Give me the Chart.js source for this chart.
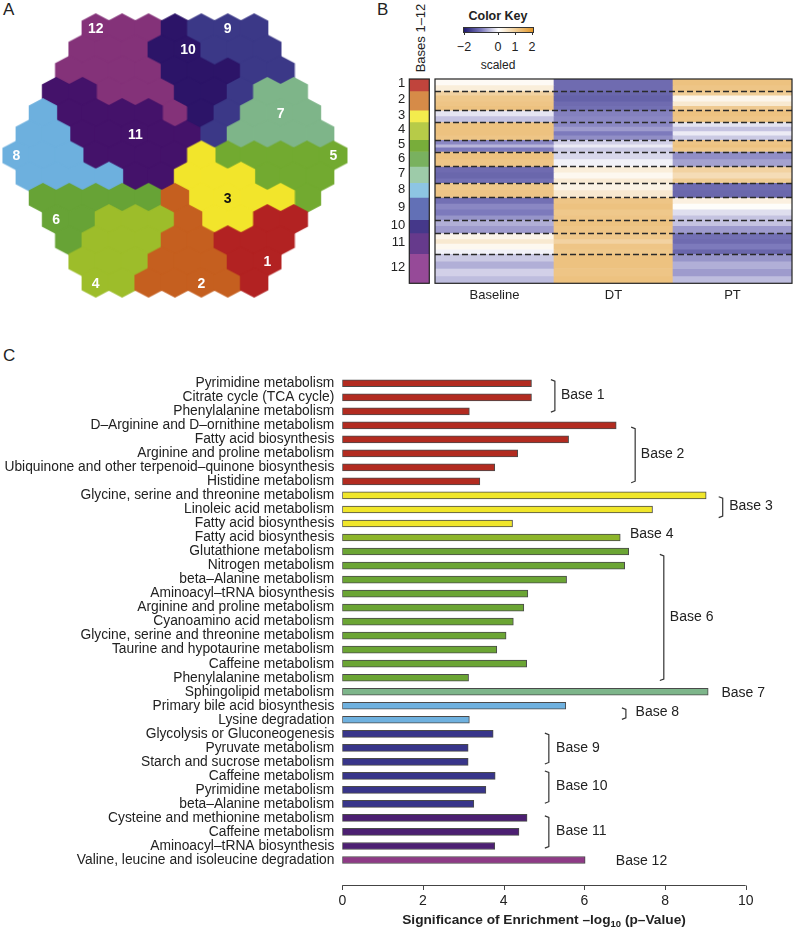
<!DOCTYPE html>
<html>
<head>
<meta charset="utf-8">
<script src="https://cdn.jsdelivr.net/npm/chart.js@4.4.0/dist/chart.umd.min.js"></script>
<style>
  body { margin: 0; background: #fff; font-family: "Liberation Sans", Arial, Helvetica, sans-serif; color: #222; }
  #page { position: relative; width: 793px; height: 931px; overflow: hidden; }
  .box { position: absolute; }
  .txt { position: absolute; white-space: nowrap; line-height: 1; }
</style>
</head>
<body>
<div id="page">
  <div class="txt" style="left:3px;top:1px;font-size:17px;">A</div>
  <div class="txt" style="left:377px;top:1px;font-size:17px;">B</div>
  <div class="txt" style="left:3px;top:347px;font-size:17px;">C</div>

  <div class="box" style="left:0;top:0;width:360px;height:310px"><canvas id="hexChart"></canvas></div>

  <div class="txt" style="left:420px;top:38px;font-size:13px;transform:translate(-50%,-50%) rotate(-90deg);">Bases 1–12</div>
  <div class="txt" style="left:498px;top:10px;font-size:12.5px;font-weight:bold;transform:translateX(-50%);">Color Key</div>
  <div id="keyBar" class="box" style="left:463px;top:27px;width:69px;height:4px;border:1px solid #333;"></div>
  <div id="keyTicks"></div>
  <div class="txt" style="left:498px;top:59px;font-size:12px;transform:translateX(-50%);">scaled</div>

  <div class="box" style="left:380px;top:70px;width:52px;height:240px"><canvas id="sideChart"></canvas></div>
  <div class="box" style="left:430px;top:70px;width:363px;height:240px"><canvas id="heatChart"></canvas></div>

  <div class="box" style="left:0;top:360px;width:793px;height:571px"><canvas id="barChart"></canvas></div>
</div>

<script>
// ---------- panel A: base map (rows of the hexagonal grid, top to bottom) ----------
const hexRows = [
  [12,12,12,10,9,9,9],
  [12,12,12,10,10,9,9,9],
  [12,12,12,12,10,10,10,9,9],
  [11,11,12,12,12,10,10,9,7,7],
  [8,11,11,11,11,12,10,9,7,7,7],
  [8,8,11,11,11,11,11,9,7,7,7,7],
  [8,8,8,11,11,11,11,3,5,5,5,5,5],
  [8,8,8,8,11,11,3,3,3,5,5,5],
  [6,6,6,6,6,2,3,3,3,3,5],
  [6,6,4,4,4,2,3,3,1,1],
  [6,4,4,4,2,2,1,1,1],
  [4,4,4,2,2,2,1,1],
  [4,4,2,2,2,2,1]
];
const hexLabelBase = [12,10,9,7,11,8,5,3,6,1,2,4];
const hexLabelRow  = [0,1,0,4,5,6,6,8,9,11,12,12];
const hexLabelCol  = [0,4,5,9,4,0,12,7,0,7,4,0];

// ---------- panel B: heatmap bands (gene counts and scaled values) ----------
const heatColumns = ['Baseline', 'DT', 'PT'];
const heatBandBase = [1,1, 2,2,2,2, 3,3, 4,4,4,4, 5,5,5, 6,6, 7,7,7, 8,8, 9,9,9,9, 10,10, 11,11,11,11, 12,12,12,12];
const heatBandSize = [4,4, 3,4,3,3, 4,4, 3,3,3,3, 3,2,3, 5,5, 4,4,3, 5,5, 4,4,4,3, 4,5, 4,3,4,3, 5,5,5,5];
const heatBaseline = [0.1,0.35, 0.9,1.1,1.15,1.2, -0.2,-0.45, 1.2,1.2,1.2,1.15, -0.9,-0.55,-1.0, 1.2,1.15, -1.15,-1.2,-1.1, 1.1,1.15, -1.1,-0.9,-1.0,-0.8, -0.6,-0.75, 0.2,0.45,0.15,-0.1, -0.4,-0.6,-0.35,-0.5];
const heatDT = [-1.15,-1.15, -1.2,-1.25,-1.15,-1.1, -0.95,-0.9, -0.9,-0.75,-1.0,-0.85, -0.35,-0.15,-0.4, -0.3,-0.1, 0.35,0.15,0.4, 0.25,0.45, 1.15,1.2,1.1,1.15, 1.2,1.15, 1.1,0.9,1.15,1.1, 1.2,1.2,1.15,1.2];
const heatPT = [1.2,1.15, 1.0,0.2,0.45,1.05, 1.2,1.15, -0.2,-0.45,-0.15,-0.4, 1.15,1.2,1.1, -0.85,-0.7, 0.9,0.7,1.0, -1.15,-1.2, 0.3,0.05,-0.25,-0.45, -0.45,-0.75, -1.1,-1.15,-1.0,-1.2, -0.8,-0.6,-0.75,-0.5];
const keyTicks = [-2, 0, 1, 2];

// ---------- panel C: pathway enrichment ----------
const pathways = [
  'Pyrimidine metabolism', 'Citrate cycle (TCA cycle)', 'Phenylalanine metabolism',
  'D–Arginine and D–ornithine metabolism', 'Fatty acid biosynthesis', 'Arginine and proline metabolism',
  'Ubiquinone and other terpenoid–quinone biosynthesis', 'Histidine metabolism',
  'Glycine, serine and threonine metabolism', 'Linoleic acid metabolism', 'Fatty acid biosynthesis',
  'Fatty acid biosynthesis',
  'Glutathione metabolism', 'Nitrogen metabolism', 'beta–Alanine metabolism', 'Aminoacyl–tRNA biosynthesis',
  'Arginine and proline metabolism', 'Cyanoamino acid metabolism', 'Glycine, serine and threonine metabolism',
  'Taurine and hypotaurine metabolism', 'Caffeine metabolism', 'Phenylalanine metabolism',
  'Sphingolipid metabolism',
  'Primary bile acid biosynthesis', 'Lysine degradation',
  'Glycolysis or Gluconeogenesis', 'Pyruvate metabolism', 'Starch and sucrose metabolism',
  'Caffeine metabolism', 'Pyrimidine metabolism', 'beta–Alanine metabolism',
  'Cysteine and methionine metabolism', 'Caffeine metabolism', 'Aminoacyl–tRNA biosynthesis',
  'Valine, leucine and isoleucine degradation'
];
const pathwayBase = [1,1,1, 2,2,2,2,2, 3,3,3, 4, 6,6,6,6,6,6,6,6,6,6, 7, 8,8, 9,9,9, 10,10,10, 11,11,11, 12];
const enrichment = [4.69,4.69,3.15, 6.79,5.61,4.35,3.78,3.41, 9.02,7.69,4.22, 6.89,
  7.10,7.00,5.56,4.60,4.50,4.24,4.06,3.83,4.57,3.13, 9.07, 5.54,3.15,
  3.74,3.12,3.12, 3.79,3.56,3.26, 4.58,4.38,3.78, 6.02];
const xTicks = [0, 2, 4, 6, 8, 10];

// base annotations (x in -log10 units, y in bar index units)
const annText     = ['Base 1','Base 2','Base 3','Base 4','Base 6','Base 7','Base 8','Base 9','Base 10','Base 11','Base 12'];
const annBracketX = [5.27, 7.26, 9.43, null, 7.97, null, 7.03, 5.12, 5.12, 5.12, null];
const annFrom     = [-0.26, 3.13, 8.09, null, 12.2, null, 23.15, 24.95, 27.65, 30.85, null];
const annTo       = [2.06, 7.09, 9.58, null, 21.2, null, 23.97, 27.15, 29.95, 33.15, null];
const annLabelX   = [5.42, 7.40, 9.59, 7.13, 8.12, 9.40, 7.27, 5.30, 5.30, 5.30, 6.78];
const annLabelY   = [0.85, 5.07, 8.77, 10.74, 16.7, 22.08, 23.47, 26.03, 28.73, 31.93, 34.07];

// ---------- colours ----------
const FONT = '"Liberation Sans", Arial, Helvetica, sans-serif';
Chart.defaults.font.family = FONT;
Chart.defaults.color = '#222';

const hexColors = {1:'#b22222',2:'#c55f1f',3:'#f2e52b',4:'#9dbd2a',5:'#72aa30',6:'#67a336',
  7:'#7eb589',8:'#6db0de',9:'#3b3887',10:'#2c1468',11:'#44126a',12:'#843279'};
const sideColors = {1:'#c0443c',2:'#d68b48',3:'#f3ec4d',4:'#b7cb48',5:'#78ad3a',6:'#79b15f',
  7:'#9dcba9',8:'#8dc5e3',9:'#6270b6',10:'#45388a',11:'#663a8c',12:'#964a98'};
const barColors = {1:'#b22b20',2:'#b22b20',3:'#f0e62a',4:'#8db52a',6:'#6ba534',7:'#7db58a',
  8:'#6fb1df',9:'#38358a',10:'#38358a',11:'#4c1f72',12:'#8e3a86'};

// scaled value -> colour (navy - white - orange)
const heatStops = [[-2,[30,25,110]],[-1,[125,122,188]],[0,[255,255,255]],[1,[240,205,150]],[2,[225,150,40]]];
function heatColor(v) {
  v = Math.max(-2, Math.min(2, v));
  for (let i = 0; i < heatStops.length - 1; i++) {
    const [a, ca] = heatStops[i], [b, cb] = heatStops[i + 1];
    if (v <= b) {
      const t = (v - a) / (b - a);
      const c = ca.map((x, k) => Math.round(x + (cb[k] - x) * t));
      return `rgb(${c[0]},${c[1]},${c[2]})`;
    }
  }
  return 'rgb(225,150,40)';
}

// ---------- panel A chart ----------
// hexagon tile, a little larger than the grid pitch so neighbours overlap without seams
function hexImage(color) {
  const c = document.createElement('canvas');
  c.width = 30; c.height = 32;
  const g = c.getContext('2d');
  const hw = 14.2, s = 15.1, cx = 15, cy = 16;
  g.fillStyle = color;
  g.beginPath();
  g.moveTo(cx, cy - s);
  g.lineTo(cx + hw, cy - s / 2);
  g.lineTo(cx + hw, cy + s / 2);
  g.lineTo(cx, cy + s);
  g.lineTo(cx - hw, cy + s / 2);
  g.lineTo(cx - hw, cy - s / 2);
  g.closePath();
  g.fill();
  return c;
}

const hexDatasets = [];
for (let b = 1; b <= 12; b++) {
  const pts = [];
  hexRows.forEach((row, r) => row.forEach((base, c) => {
    if (base === b) pts.push({ x: c + Math.abs(r - 6) / 2, y: r });
  }));
  hexDatasets.push({ data: pts, pointStyle: hexImage(hexColors[b]), pointRadius: 13, clip: false });
}

const hexLabelPlugin = {
  id: 'hexLabels',
  afterDatasetsDraw(chart) {
    const { ctx, scales: { x, y } } = chart;
    ctx.save();
    ctx.font = 'bold 14px ' + FONT;
    ctx.textAlign = 'center';
    ctx.textBaseline = 'middle';
    hexLabelBase.forEach((b, i) => {
      const r = hexLabelRow[i], c = hexLabelCol[i];
      ctx.fillStyle = b === 3 ? '#111' : '#fff';
      ctx.fillText(String(b), x.getPixelForValue(c + Math.abs(r - 6) / 2), y.getPixelForValue(r) + 1);
    });
    ctx.restore();
  }
};

new Chart(document.getElementById('hexChart'), {
  type: 'scatter',
  data: { datasets: hexDatasets },
  options: {
    responsive: true, maintainAspectRatio: false, animation: false, events: [],
    layout: { padding: 0, autoPadding: false },
    plugins: { legend: { display: false }, tooltip: { enabled: false } },
    scales: {
      x: { display: false, min: -0.625, max: 13.01 },
      y: { display: false, min: -1.335, max: 13.29, reverse: true }
    }
  },
  plugins: [hexLabelPlugin]
});

// ---------- panel B: colour key ----------
(function () {
  const stops = [];
  for (let v = -2; v <= 2.001; v += 0.25) stops.push(heatColor(v) + ' ' + ((v + 2) / 4 * 100).toFixed(1) + '%');
  document.getElementById('keyBar').style.background = 'linear-gradient(to right,' + stops.join(',') + ')';
  const holder = document.getElementById('keyTicks');
  keyTicks.forEach(t => {
    const x = 464 + (t + 2) / 4 * 68;
    const tick = document.createElement('div');
    tick.className = 'box';
    tick.style.cssText = `left:${x}px;top:32px;width:1px;height:3px;background:#333;`;
    holder.appendChild(tick);
    const lab = document.createElement('div');
    lab.className = 'txt';
    lab.style.cssText = `left:${x}px;top:41px;font-size:12.5px;transform:translateX(-50%);`;
    lab.textContent = t < 0 ? '−' + Math.abs(t) : String(t);
    holder.appendChild(lab);
  });
})();

// base sizes from bands
const baseSize = {};
heatBandBase.forEach((b, i) => { baseSize[b] = (baseSize[b] || 0) + heatBandSize[i]; });
const totalGenes = heatBandSize.reduce((a, b) => a + b, 0);
const baseIds = Object.keys(baseSize).map(Number);

// side colour bar
const sidePlugin = {
  id: 'sideDeco',
  afterDatasetsDraw(chart) {
    const { ctx, chartArea: a, scales: { y } } = chart;
    ctx.save();
    ctx.strokeStyle = '#222';
    ctx.lineWidth = 1.2;
    ctx.strokeRect(a.left, a.top, a.right - a.left, a.bottom - a.top);
    ctx.font = '13px ' + FONT;
    ctx.fillStyle = '#222';
    ctx.textAlign = 'right';
    ctx.textBaseline = 'middle';
    let cum = 0;
    baseIds.forEach(b => {
      const mid = cum + baseSize[b] / 2;
      ctx.fillText(String(b), a.left - 4, y.getPixelForValue(mid) - 1);
      cum += baseSize[b];
    });
    ctx.restore();
  }
};

new Chart(document.getElementById('sideChart'), {
  type: 'bar',
  data: {
    labels: [''],
    datasets: baseIds.map(b => ({
      data: [baseSize[b]], backgroundColor: sideColors[b], borderWidth: 0,
      barPercentage: 1, categoryPercentage: 1
    }))
  },
  options: {
    responsive: true, maintainAspectRatio: false, animation: false, events: [],
    layout: { padding: { left: 29.3, right: 2.7, top: 9, bottom: 26.7 } },
    plugins: { legend: { display: false }, tooltip: { enabled: false } },
    scales: {
      x: { display: false, stacked: true },
      y: { display: false, stacked: true, min: 0, max: totalGenes, reverse: true }
    }
  },
  plugins: [sidePlugin]
});

// heatmap
const heatPlugin = {
  id: 'heatDeco',
  afterDatasetsDraw(chart) {
    const { ctx, chartArea: a, scales: { x, y } } = chart;
    ctx.save();
    ctx.strokeStyle = '#2a2a2a';
    ctx.lineWidth = 1.3;
    ctx.setLineDash([6, 3]);
    let cum = 0;
    baseIds.slice(0, -1).forEach(b => {
      cum += baseSize[b];
      const py = Math.round(y.getPixelForValue(cum)) + 0.5;
      ctx.beginPath();
      ctx.moveTo(a.left, py);
      ctx.lineTo(a.right, py);
      ctx.stroke();
    });
    ctx.setLineDash([]);
    ctx.strokeStyle = '#222';
    ctx.lineWidth = 1.2;
    ctx.strokeRect(a.left, a.top, a.right - a.left, a.bottom - a.top);
    ctx.font = '13px ' + FONT;
    ctx.fillStyle = '#222';
    ctx.textAlign = 'center';
    ctx.textBaseline = 'middle';
    heatColumns.forEach((c, i) => ctx.fillText(c, x.getPixelForValue(i), a.bottom + 12));
    ctx.restore();
  }
};

new Chart(document.getElementById('heatChart'), {
  type: 'bar',
  data: {
    labels: heatColumns,
    datasets: heatBandSize.map((n, i) => ({
      data: [n, n, n],
      backgroundColor: [heatColor(heatBaseline[i]), heatColor(heatDT[i]), heatColor(heatPT[i])],
      borderWidth: 0, barPercentage: 1, categoryPercentage: 1
    }))
  },
  options: {
    responsive: true, maintainAspectRatio: false, animation: false, events: [],
    layout: { padding: { left: 5, right: 1, top: 9, bottom: 26.7 } },
    plugins: { legend: { display: false }, tooltip: { enabled: false } },
    scales: {
      x: { display: false, stacked: true },
      y: { display: false, stacked: true, min: 0, max: totalGenes, reverse: true }
    }
  },
  plugins: [heatPlugin]
});

// ---------- panel C chart ----------
const annotPlugin = {
  id: 'annot',
  afterDatasetsDraw(chart) {
    const { ctx, chartArea: a, scales: { x, y } } = chart;
    ctx.save();
    // brackets and base labels
    ctx.strokeStyle = '#333';
    ctx.lineWidth = 1.2;
    ctx.font = '14px ' + FONT;
    ctx.fillStyle = '#222';
    ctx.textBaseline = 'middle';
    ctx.textAlign = 'left';
    annText.forEach((t, i) => {
      if (annBracketX[i] !== null) {
        const bx = x.getPixelForValue(annBracketX[i]);
        const y0 = y.getPixelForValue(annFrom[i]), y1 = y.getPixelForValue(annTo[i]);
        ctx.beginPath();
        ctx.moveTo(bx - 4, y0);
        ctx.lineTo(bx, y0 + 1.5);
        ctx.lineTo(bx, y1 - 1.5);
        ctx.lineTo(bx - 4, y1);
        ctx.stroke();
      }
      ctx.fillText(t, x.getPixelForValue(annLabelX[i]), y.getPixelForValue(annLabelY[i]));
    });
    // bottom axis
    const ay = a.bottom + 18.5;
    ctx.strokeStyle = '#444';
    ctx.lineWidth = 1;
    ctx.beginPath();
    ctx.moveTo(x.getPixelForValue(xTicks[0]), ay);
    ctx.lineTo(x.getPixelForValue(xTicks[xTicks.length - 1]), ay);
    xTicks.forEach(t => {
      const px = Math.round(x.getPixelForValue(t)) + 0.5;
      ctx.moveTo(px, ay);
      ctx.lineTo(px, ay + 4.5);
    });
    ctx.stroke();
    ctx.textAlign = 'center';
    ctx.font = '14px ' + FONT;
    xTicks.forEach(t => ctx.fillText(String(t), x.getPixelForValue(t), ay + 16));
    // axis title with subscript
    const p1 = 'Significance of Enrichment –log', p2 = '10', p3 = ' (p–Value)';
    const f1 = 'bold 13.7px ' + FONT, f2 = 'bold 9.5px ' + FONT;
    ctx.font = f1; const w1 = ctx.measureText(p1).width, w3 = ctx.measureText(p3).width;
    ctx.font = f2; const w2 = ctx.measureText(p2).width;
    let sx = (x.getPixelForValue(0) + x.getPixelForValue(10)) / 2 - (w1 + w2 + w3) / 2;
    const ty = ay + 35;
    ctx.textAlign = 'left';
    ctx.font = f1; ctx.fillText(p1, sx, ty); sx += w1;
    ctx.font = f2; ctx.fillText(p2, sx, ty + 4); sx += w2;
    ctx.font = f1; ctx.fillText(p3, sx, ty);
    ctx.restore();
  }
};

new Chart(document.getElementById('barChart'), {
  type: 'bar',
  data: {
    labels: pathways,
    datasets: [{
      data: enrichment,
      backgroundColor: pathwayBase.map(b => barColors[b]),
      borderColor: '#4a4a4a',
      borderWidth: 1,
      borderSkipped: false,
      barThickness: 7
    }]
  },
  options: {
    indexAxis: 'y',
    responsive: true, maintainAspectRatio: false, animation: false, events: [],
    layout: { padding: { left: 0, right: 47.3, top: 15, bottom: 64 } },
    plugins: { legend: { display: false }, tooltip: { enabled: false } },
    scales: {
      x: { display: false, min: 0, max: 10 },
      y: {
        grid: { display: false, drawTicks: false },
        border: { display: false },
        ticks: { font: { size: 13.8 }, color: '#222', padding: 8, autoSkip: false },
        afterFit(scale) { scale.width = 342.3; }
      }
    }
  },
  plugins: [annotPlugin]
});
</script>
</body>
</html>
